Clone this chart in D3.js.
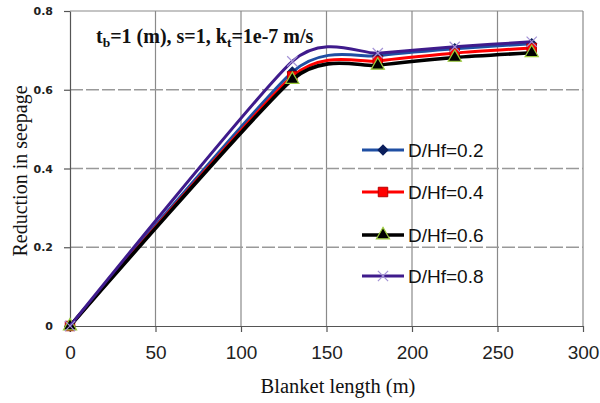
<!DOCTYPE html>
<html>
<head>
<meta charset="utf-8">
<script src="https://cdn.jsdelivr.net/npm/d3@7"></script>
<style>
  html, body { margin: 0; padding: 0; background: #fff; }
  svg { display: block; }
</style>
</head>
<body>
<svg id="chart" width="600" height="403"></svg>
<script>
// Blanket length (m) at which seepage reduction was computed
const blanketLength = [0, 130, 180, 225, 270];

// Reduction in seepage for each cutoff depth ratio D/Hf
const seriesLabels = ["D/Hf=0.2", "D/Hf=0.4", "D/Hf=0.6", "D/Hf=0.8"];
const reductionD02 = [0, 0.645, 0.686, 0.704, 0.717];
const reductionD04 = [0, 0.634, 0.673, 0.693, 0.706];
const reductionD06 = [0, 0.626, 0.662, 0.682, 0.694];
const reductionD08 = [0, 0.672, 0.693, 0.709, 0.722];

// Axis ticks
const xTicks = [0, 50, 100, 150, 200, 250, 300];
const yTicks = [0, 0.2, 0.4, 0.6, 0.8];
const yTickLabels = ["0", "0.2", "0.4", "0.6", "0.8"];

const svg = d3.select("#chart");
const W = 600, H = 403;
svg.append("rect").attr("width", W).attr("height", H).attr("fill", "#fff");

const x = d3.scaleLinear().domain([0, 300]).range([70, 583]);
const y = d3.scaleLinear().domain([0, 0.8]).range([326, 11]);

const gridColor = "#8a8a8a";

// vertical grid lines (solid)
svg.append("g").selectAll("line")
  .data(xTicks.filter(d => d > 0))
  .join("line")
  .attr("x1", d => x(d)).attr("x2", d => x(d))
  .attr("y1", y(0.8)).attr("y2", y(0))
  .attr("stroke", gridColor).attr("stroke-width", 1.2);

// horizontal grid lines (dashed)
svg.append("g").selectAll("line")
  .data(yTicks.filter(d => d > 0 && d < 0.8))
  .join("line")
  .attr("x1", x(0)).attr("x2", x(300))
  .attr("y1", d => y(d)).attr("y2", d => y(d))
  .attr("stroke", "#999").attr("stroke-width", 1.5)
  .attr("stroke-dasharray", "13,3");

// top border
svg.append("line")
  .attr("x1", x(0)).attr("x2", x(300))
  .attr("y1", y(0.8)).attr("y2", y(0.8))
  .attr("stroke", gridColor).attr("stroke-width", 1.2);

// x axis
const xAxis = svg.append("g")
  .attr("transform", `translate(0,${y(0)})`)
  .call(d3.axisBottom(x).tickValues(xTicks).tickSize(6).tickSizeOuter(0).tickPadding(14));
xAxis.select(".domain").attr("stroke", "#555").attr("stroke-width", 1.2);
xAxis.selectAll(".tick line").attr("stroke", "#555").attr("stroke-width", 1.2);
xAxis.selectAll(".tick text")
  .attr("font-family", "'Liberation Sans', Arial, sans-serif")
  .attr("font-size", 19).attr("fill", "#222");

// y axis
const yAxis = svg.append("g")
  .attr("transform", `translate(${x(0)},0)`)
  .call(d3.axisLeft(y).tickValues(yTicks).tickFormat((d, i) => yTickLabels[i])
    .tickSize(6).tickSizeOuter(0).tickPadding(11));
yAxis.select(".domain").attr("stroke", "#555").attr("stroke-width", 1.2);
yAxis.selectAll(".tick line").attr("stroke", "#555").attr("stroke-width", 1.2);
yAxis.selectAll(".tick text")
  .attr("font-family", "'DejaVu Sans', sans-serif")
  .attr("font-weight", "bold")
  .attr("font-size", 11).attr("fill", "#222");

// axis titles
svg.append("text")
  .attr("x", 338).attr("y", 393)
  .attr("text-anchor", "middle")
  .attr("font-family", "'Liberation Serif', 'Times New Roman', serif")
  .attr("font-size", 20.5).attr("fill", "#111")
  .text("Blanket length (m)");

svg.append("text")
  .attr("transform", "translate(27,171) rotate(-90)")
  .attr("text-anchor", "middle")
  .attr("font-family", "'Liberation Serif', 'Times New Roman', serif")
  .attr("font-size", 20).attr("fill", "#111")
  .text("Reduction in seepage");

// parameter annotation
const note = svg.append("text")
  .attr("x", 96).attr("y", 43)
  .attr("font-family", "'Liberation Serif', 'Times New Roman', serif")
  .attr("font-weight", "bold")
  .attr("font-size", 20).attr("fill", "#111");
note.append("tspan").text("t");
note.append("tspan").attr("font-size", 13.5).attr("dy", 4).text("b");
note.append("tspan").attr("dy", -4).text("=1 (m), s=1, k");
note.append("tspan").attr("font-size", 13.5).attr("dy", 4).text("t");
note.append("tspan").attr("dy", -4).text("=1e-7 m/s");

// series definitions
const series = [
  { label: seriesLabels[0], values: reductionD02, line: "#1f4fa3", width: 3,
    symbol: d3.symbolSquare, size: 50, rotate: 45, fill: "#0b1f5c", stroke: "#0b1f5c", sw: 1 },
  { label: seriesLabels[1], values: reductionD04, line: "#ff0000", width: 3,
    symbol: d3.symbolSquare, size: 90, rotate: 0, fill: "#ff0000", stroke: "#b80000", sw: 1 },
  { label: seriesLabels[2], values: reductionD06, line: "#000000", width: 3.6,
    symbol: d3.symbolTriangle, size: 75, rotate: 0, fill: "#000000", stroke: "#9ccc3c", sw: 1.2 },
  { label: seriesLabels[3], values: reductionD08, line: "#3f1b8c", width: 3,
    symbol: d3.symbolX, size: 70, rotate: 0, fill: "none", stroke: "#a493d6", sw: 1.2 }
];

const line = d3.line()
  .x(d => x(d[0]))
  .y(d => y(d[1]))
  .curve(d3.curveCardinal.tension(0.38));

const drawMarker = (g, s, px, py) => {
  g.append("path")
    .attr("d", d3.symbol().type(s.symbol).size(s.size)())
    .attr("transform", `translate(${px},${py}) rotate(${s.rotate})`)
    .attr("fill", s.fill).attr("stroke", s.stroke).attr("stroke-width", s.sw);
};

series.forEach(s => {
  const pts = blanketLength.map((b, i) => [b, s.values[i]]);
  const g = svg.append("g");
  g.append("path")
    .attr("d", line(pts))
    .attr("fill", "none")
    .attr("stroke", s.line)
    .attr("stroke-width", s.width)
    .attr("stroke-linejoin", "round");
  pts.forEach(p => drawMarker(g, s, x(p[0]), y(p[1])));
});

// legend
const legend = svg.append("g");
const legendY = [150, 192, 235, 276];
series.forEach((s, i) => {
  const ly = legendY[i];
  legend.append("line")
    .attr("x1", 362).attr("x2", 404)
    .attr("y1", ly).attr("y2", ly)
    .attr("stroke", s.line).attr("stroke-width", s.width);
  drawMarker(legend, s, 383, ly);
  legend.append("text")
    .attr("x", 408).attr("y", ly)
    .attr("dy", "0.36em")
    .attr("font-family", "'Liberation Sans', Arial, sans-serif")
    .attr("font-size", 19).attr("fill", "#111")
    .text(s.label);
});
</script>
</body>
</html>
